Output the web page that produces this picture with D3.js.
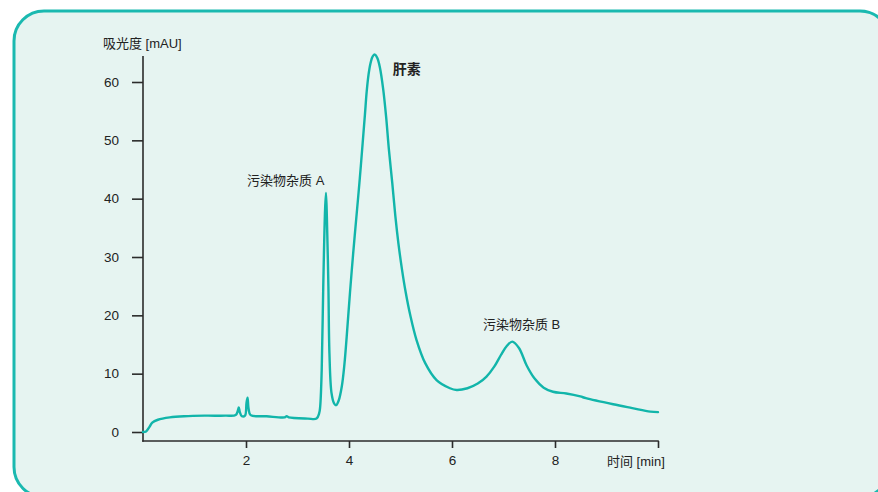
<!DOCTYPE html>
<html>
<head>
<meta charset="utf-8">
<script src="https://cdn.jsdelivr.net/npm/d3@7"></script>
<style>
  html, body { margin: 0; padding: 0; background: #ffffff; }
  svg { display: block; }
  text { font-family: "Liberation Sans Narrow", "Liberation Sans", "Noto Sans CJK SC", sans-serif; fill: #222; }
</style>
</head>
<body>
<svg id="chart" width="878" height="492"></svg>
<script>
// ---- data ----
const times = [0.00, 0.06, 0.12, 0.18, 0.29, 0.52, 0.80, 1.20, 1.60, 1.80, 1.84, 1.86, 1.88, 1.92, 1.98, 2.01, 2.03, 2.05, 2.09,
  2.40, 2.75, 2.79, 2.83, 3.20, 3.37, 3.42, 3.44, 3.47, 3.50, 3.535, 3.553, 3.57, 3.60, 3.62, 3.66, 3.71, 3.75, 3.80, 3.86, 3.91,
  3.955, 4.02, 4.08, 4.15, 4.21, 4.265, 4.31, 4.343, 4.38, 4.42, 4.46, 4.505, 4.55, 4.60, 4.665, 4.72, 4.775, 4.84, 4.90, 4.96, 5.03, 5.10, 5.19,
  5.31, 5.48, 5.70, 5.96, 6.09, 6.30, 6.50, 6.67, 6.82, 6.95, 7.06, 7.17, 7.30, 7.45, 7.60, 7.78, 7.96, 8.22, 8.49, 8.60, 9.13, 9.50, 9.85, 10.0];
const absorbance = [0.0, 0.1, 0.8, 1.6, 2.1, 2.5, 2.7, 2.8, 2.8, 2.9, 3.6, 4.2, 3.4, 2.7, 2.8, 5.0, 5.9, 4.0, 2.9,
  2.7, 2.5, 2.7, 2.5, 2.3, 2.3, 3.2, 4.3, 10.6, 24.9, 38.0, 41.0, 37.0, 24.9, 13.5, 6.7, 4.9, 4.6, 5.4, 7.8, 11.5,
  16.3, 24.0, 30.5, 37.5, 43.5, 49.5, 54.5, 58.3, 61.3, 63.3, 64.4, 64.7, 64.1, 62.5, 58.7, 54.1, 48.4, 42.7, 37.0, 32.3, 27.8, 24.0, 20.0,
  15.8, 11.8, 8.9, 7.5, 7.2, 7.5, 8.3, 9.5, 11.2, 13.2, 14.7, 15.5, 14.4, 11.4, 9.2, 7.6, 6.9, 6.6, 6.1, 5.8, 4.75, 4.1, 3.5, 3.4];
const xTicks = [2, 4, 6, 8, 10];
const xTickLabels = ["2", "4", "6", "8", ""];
const yTicks = [0, 10, 20, 30, 40, 50, 60];
const annotations = [
  { label: "肝素", t: 4.85, v: 61.3, bold: true },
  { label: "污染物杂质 A", t: 2.02, v: 42.4, bold: false },
  { label: "污染物杂质 B", t: 6.6, v: 17.7, bold: false }
];
const yTitle = "吸光度 [mAU]";
const xTitle = "时间 [min]";

// ---- drawing ----
const svg = d3.select("#chart");

svg.append("rect")
  .attr("x", 14).attr("y", 11).attr("width", 876).attr("height", 486)
  .attr("rx", 30).attr("ry", 30)
  .attr("fill", "#e6f4f1").attr("stroke", "#1ab9b0").attr("stroke-width", 3);

const x = d3.scaleLinear().domain([0, 10]).range([143, 658]);
const y = d3.scaleLinear().domain([0, 60]).range([432, 82]);

const axisColor = "#2b2b2b";
const tickFont = '"Liberation Sans Narrow", "Liberation Sans", sans-serif';

// y axis
const yAxis = svg.append("g").attr("transform", "translate(143,0)")
  .call(d3.axisLeft(y).tickValues(yTicks).tickSize(11).tickSizeOuter(0).tickPadding(13));
yAxis.select(".domain").remove();
yAxis.selectAll(".tick line").attr("stroke", axisColor).attr("stroke-width", 1.6);
yAxis.selectAll(".tick text").style("font-size", "13.5px").attr("fill", "#222").style("font-family", tickFont);
svg.append("line").attr("x1", 143).attr("x2", 143).attr("y1", 56).attr("y2", 441.8)
  .attr("stroke", axisColor).attr("stroke-width", 1.6);

// x axis
const xAxis = svg.append("g").attr("transform", "translate(0,441)")
  .call(d3.axisBottom(x).tickValues(xTicks).tickFormat((d, i) => xTickLabels[i]).tickSize(7).tickSizeOuter(0).tickPadding(7));
xAxis.select(".domain").remove();
xAxis.selectAll(".tick line").attr("stroke", axisColor).attr("stroke-width", 1.6);
xAxis.selectAll(".tick text").style("font-size", "13.5px").attr("fill", "#222").style("font-family", tickFont);
svg.append("line").attr("x1", 142.2).attr("x2", 658.8).attr("y1", 441).attr("y2", 441)
  .attr("stroke", axisColor).attr("stroke-width", 1.6);

// titles
svg.append("text").attr("x", 103).attr("y", 48).style("font-size", "13px").text(yTitle);
svg.append("text").attr("x", 607).attr("y", 466).style("font-size", "13px").text(xTitle);

// chromatogram line
const pts = times.map((t, i) => [t, absorbance[i]]);
const line = d3.line().x(d => x(d[0])).y(d => y(d[1])).curve(d3.curveCatmullRom.alpha(0.5));
svg.append("path").datum(pts)
  .attr("d", line)
  .attr("fill", "none").attr("stroke", "#12b5aa").attr("stroke-width", 2.4)
  .attr("stroke-linejoin", "round").attr("stroke-linecap", "round");

// annotations
svg.selectAll("text.ann").data(annotations).enter().append("text")
  .attr("class", "ann")
  .attr("x", d => x(d.t)).attr("y", d => y(d.v))
  .style("font-size", d => d.bold ? "14px" : "13px")
  .style("font-weight", d => d.bold ? "bold" : "normal")
  .text(d => d.label);
</script>
</body>
</html>
